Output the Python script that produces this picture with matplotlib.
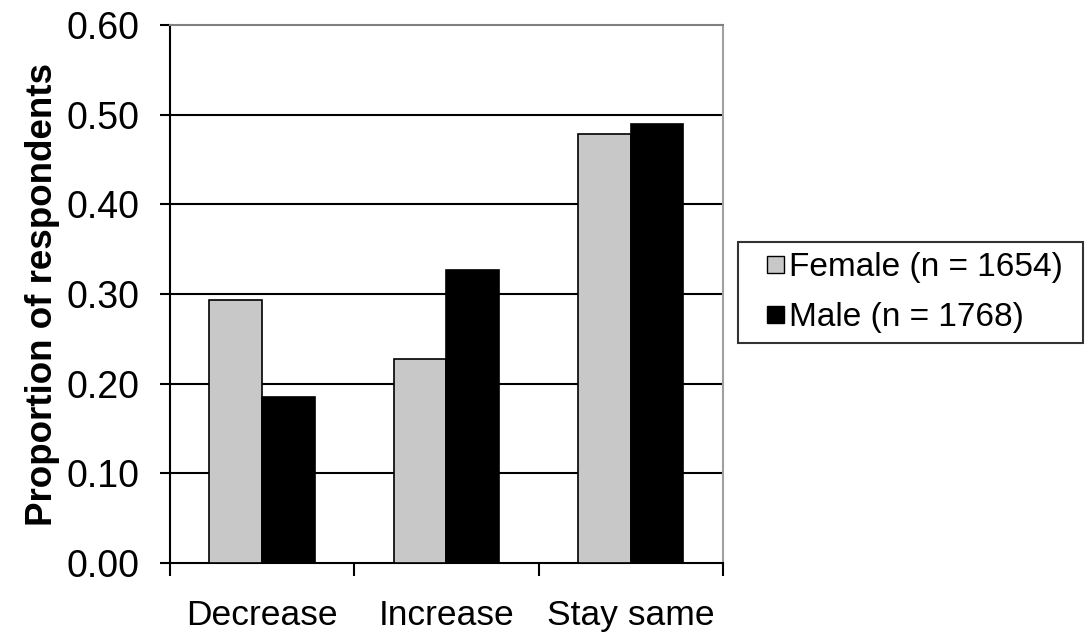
import matplotlib
matplotlib.use("Agg")
import matplotlib.pyplot as plt
from matplotlib.legend_handler import HandlerPatch
from matplotlib.patches import Rectangle
import numpy as np

plt.rcParams['font.family'] = ['Liberation Sans', 'DejaVu Sans']

categories = ["Decrease", "Increase", "Stay same"]
female = [0.293, 0.227, 0.478]
male = [0.185, 0.327, 0.490]
series_labels = ["Female (n = 1654)", "Male (n = 1768)"]
series_colors = ["#c8c8c8", "black"]
y_ticks = [0.0, 0.1, 0.2, 0.3, 0.4, 0.5, 0.6]

fig = plt.figure(figsize=(10.85, 6.36), dpi=100)
ax = fig.add_axes([170 / 1085, 73 / 636, 553 / 1085, 538 / 636])

x = np.arange(len(categories))
bar_w = 1 / 3.5  # Excel-style 150% gap width
ax.bar(x - bar_w / 2, female, width=bar_w, color=series_colors[0], edgecolor="black",
       linewidth=1.2, zorder=3)
ax.bar(x + bar_w / 2, male, width=bar_w, color=series_colors[1], edgecolor="black",
       linewidth=1.2, zorder=3)

ax.set_xlim(-0.5, len(categories) - 0.5)
ax.set_ylim(0, 0.6)
ax.set_yticks(y_ticks)
ax.set_yticklabels([f"{v:.2f}" for v in y_ticks], fontsize=27)

# Category ticks sit at the group boundaries; labels are centred below each group
ax.set_xticks(np.arange(len(categories) + 1) - 0.5)
ax.set_xticklabels([])
ax.set_xticks(x, minor=True)
ax.set_xticklabels(categories, minor=True, fontsize=25.5)
ax.tick_params(axis='x', which='minor', length=0, pad=26)
ax.tick_params(axis='x', which='major', length=9, width=1.5, direction='out')
ax.tick_params(axis='y', length=7, width=1.5, direction='out', pad=15)

for v in y_ticks[1:-1]:
    ax.axhline(v, color="black", linewidth=1.5, zorder=1)

ax.spines['left'].set_color("black")
ax.spines['left'].set_linewidth(1.5)
ax.spines['bottom'].set_color("black")
ax.spines['bottom'].set_linewidth(1.5)
ax.spines['top'].set_color("#808080")
ax.spines['top'].set_linewidth(1.5)
ax.spines['right'].set_color("#a0a0a0")
ax.spines['right'].set_linewidth(1.5)

ax.set_ylabel("Proportion of respondents", fontsize=26.5, fontweight='bold', labelpad=5)


def small_square(legend, orig_handle, xdescent, ydescent, width, height, fontsize):
    side = 12.0
    return Rectangle((-xdescent + width - side, -ydescent + (height - side) / 2),
                     side, side)


handles = [Rectangle((0, 0), 1, 1, facecolor=c, edgecolor="black", linewidth=1.0)
           for c in series_colors]
leg = fig.legend(handles, series_labels,
                 loc='center left', mode='expand',
                 bbox_to_anchor=(738 / 1085, 1 - 292.5 / 636, 345 / 1085, 0),
                 fontsize=24, frameon=True, fancybox=False, edgecolor="black",
                 handlelength=1.08, handleheight=0.7, handletextpad=0.15,
                 borderpad=0.3, labelspacing=0.58, borderaxespad=0,
                 handler_map={Rectangle: HandlerPatch(patch_func=small_square)})
leg.get_frame().set_linewidth(1.5)

fig.savefig("out.png", dpi=100, facecolor="white")
